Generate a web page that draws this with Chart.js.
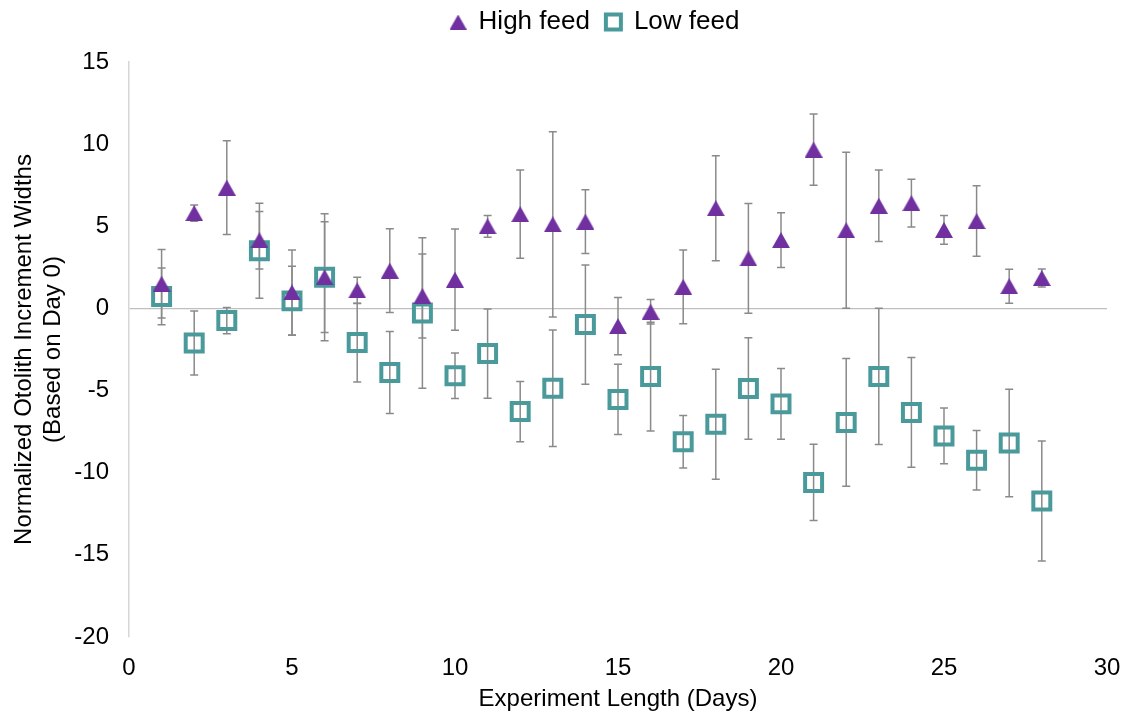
<!DOCTYPE html>
<html>
<head>
<meta charset="utf-8">
<script src="https://cdn.jsdelivr.net/npm/chart.js@4.4.1/dist/chart.umd.min.js"></script>
<style>
html,body{margin:0;padding:0;background:#fff;}
#wrap{width:1142px;height:717px;}
</style>
</head>
<body>
<div id="wrap"><canvas id="c" width="1142" height="717"></canvas></div>
<script>
const days = [1,2,3,4,5,6,7,8,9,10,11,12,13,14,15,16,17,18,19,20,21,22,23,24,25,26,27,28];
const highFeed = [1.5,5.8,7.35,4.15,0.97,1.9,1.1,2.3,0.76,1.75,5.0,5.74,5.12,5.28,-1.08,-0.2,1.31,6.1,3.04,4.16,9.67,4.76,6.25,6.41,4.78,5.32,1.35,1.85];
const highErr  = [2.08,0.5,2.85,1.75,2.58,3.37,0.8,2.55,2.56,3.08,0.66,2.69,5.64,1.94,1.74,0.75,2.25,3.2,3.34,1.67,2.17,4.75,2.18,1.45,0.87,2.15,1.03,0.55];
const lowFeed  = [0.73,-2.1,-0.74,3.51,0.46,1.9,-2.08,-3.9,-0.28,-4.1,-2.75,-6.28,-4.86,-0.98,-5.54,-4.15,-8.12,-7.05,-4.87,-5.81,-10.59,-6.94,-4.14,-6.33,-7.76,-9.24,-8.19,-11.72];
const lowErr   = [1.73,1.95,0.8,2.89,2.1,3.87,2.4,2.5,4.58,1.38,2.72,1.83,3.55,3.63,2.14,3.31,1.6,3.35,3.09,2.15,2.32,3.89,4.15,3.34,1.7,1.81,3.27,3.65];
const yTicks = [15,10,5,0,-5,-10,-15,-20];
const xTicks = [0,5,10,15,20,25,30];
const seriesNames = ['High feed','Low feed'];
const yTitle = ['Normalized Otolith Increment Widths','(Based on Day 0)'];
const xTitle = 'Experiment Length (Days)';

const PURPLE = '#7030A0';
const TEAL = '#4A9A9C';
const FONT = "'Liberation Sans', Arial, Helvetica, sans-serif";

// triangle marker centred on its bounding box
function makeTriangle(w, h, color) {
  const cv = document.createElement('canvas');
  cv.width = w; cv.height = h;
  const g = cv.getContext('2d');
  g.fillStyle = color;
  g.beginPath();
  g.moveTo(w / 2, 0);
  g.lineTo(w, h);
  g.lineTo(0, h);
  g.closePath();
  g.fill();
  return cv;
}
const triMarker = makeTriangle(18, 16, PURPLE);
const triLegend = makeTriangle(17, 15, PURPLE);

const errorBars = {
  id: 'errorBars',
  beforeDatasetsDraw(chart) {
    const ctx = chart.ctx;
    const xs = chart.scales.x, ys = chart.scales.y;
    const sets = [[highFeed, highErr],[lowFeed, lowErr]];
    ctx.save();
    ctx.strokeStyle = '#8a8a8a';
    ctx.lineWidth = 1.5;
    sets.forEach(([vals, errs]) => {
      vals.forEach((v, i) => {
        const px = xs.getPixelForValue(days[i]);
        const top = ys.getPixelForValue(v + errs[i]);
        const bot = ys.getPixelForValue(v - errs[i]);
        ctx.beginPath();
        ctx.moveTo(px, top); ctx.lineTo(px, bot);
        ctx.moveTo(px - 4, top); ctx.lineTo(px + 4, top);
        ctx.moveTo(px - 4, bot); ctx.lineTo(px + 4, bot);
        ctx.stroke();
      });
    });
    ctx.restore();
  }
};

const legendPlace = {
  id: 'legendPlace',
  afterInit(chart) {
    const lg = chart.legend;
    if (!lg) return;
    const orig = lg.fit.bind(lg);
    lg.fit = function() { orig(); this.height = 62; };
  },
  beforeDraw(chart) {
    const lg = chart.legend;
    if (!lg) return;
    lg.top = -7;
    lg.left = 48;
    lg.right = 1142;
  }
};

new Chart(document.getElementById('c'), {
  type: 'scatter',
  data: {
    datasets: [
      {
        label: seriesNames[0],
        data: days.map((d, i) => ({x: d, y: highFeed[i]})),
        pointStyle: triMarker,
        pointRadius: 10,
        pointHoverRadius: 10,
        backgroundColor: PURPLE,
        borderColor: PURPLE,
        borderWidth: 1
      },
      {
        label: seriesNames[1],
        data: days.map((d, i) => ({x: d, y: lowFeed[i]})),
        pointStyle: 'rect',
        pointRadius: 12,
        pointHoverRadius: 12,
        backgroundColor: 'rgba(0,0,0,0)',
        borderColor: TEAL,
        borderWidth: 4
      }
    ]
  },
  options: {
    responsive: false,
    animation: false,
    devicePixelRatio: 1,
    layout: { padding: { left: 0, right: 35, top: 0, bottom: 0 } },
    plugins: {
      legend: {
        position: 'top',
        labels: {
          usePointStyle: true,
          font: { family: FONT, size: 26 },
          color: '#000',
          boxWidth: 15,
          boxHeight: 15,
          padding: 16,
          generateLabels(chart) {
            const items = Chart.defaults.plugins.legend.labels.generateLabels(chart);
            if (items[0]) items[0].pointStyle = triLegend;
            return items;
          }
        }
      },
      tooltip: { enabled: false }
    },
    scales: {
      x: {
        type: 'linear',
        min: 0, max: 30,
        afterBuildTicks(s) { s.ticks = xTicks.map(v => ({value: v})); },
        afterFit(s) { s.height = 80; },
        grid: { display: false, drawTicks: false },
        border: { display: false },
        ticks: { font: { family: FONT, size: 24 }, color: '#000', padding: 17 },
        title: { display: true, text: xTitle, font: { family: FONT, size: 24 }, color: '#000', padding: { top: 0, bottom: 3 } }
      },
      y: {
        type: 'linear',
        min: -20, max: 15,
        afterBuildTicks(s) { s.ticks = yTicks.map(v => ({value: v})); },
        afterFit(s) { s.width = 129; },
        grid: {
          color: (c) => (c.tick && c.tick.value === 0) ? '#bfbfbf' : 'rgba(0,0,0,0)',
          lineWidth: 1.2,
          drawTicks: false
        },
        border: { display: true, color: '#d6d6d6', width: 1.5 },
        ticks: { font: { family: FONT, size: 24 }, color: '#000', padding: 20 },
        title: { display: true, text: yTitle, font: { family: FONT, size: 24 }, color: '#000', padding: { top: 10, bottom: 0 } }
      }
    }
  },
  plugins: [errorBars, legendPlace]
});
</script>
</body>
</html>
